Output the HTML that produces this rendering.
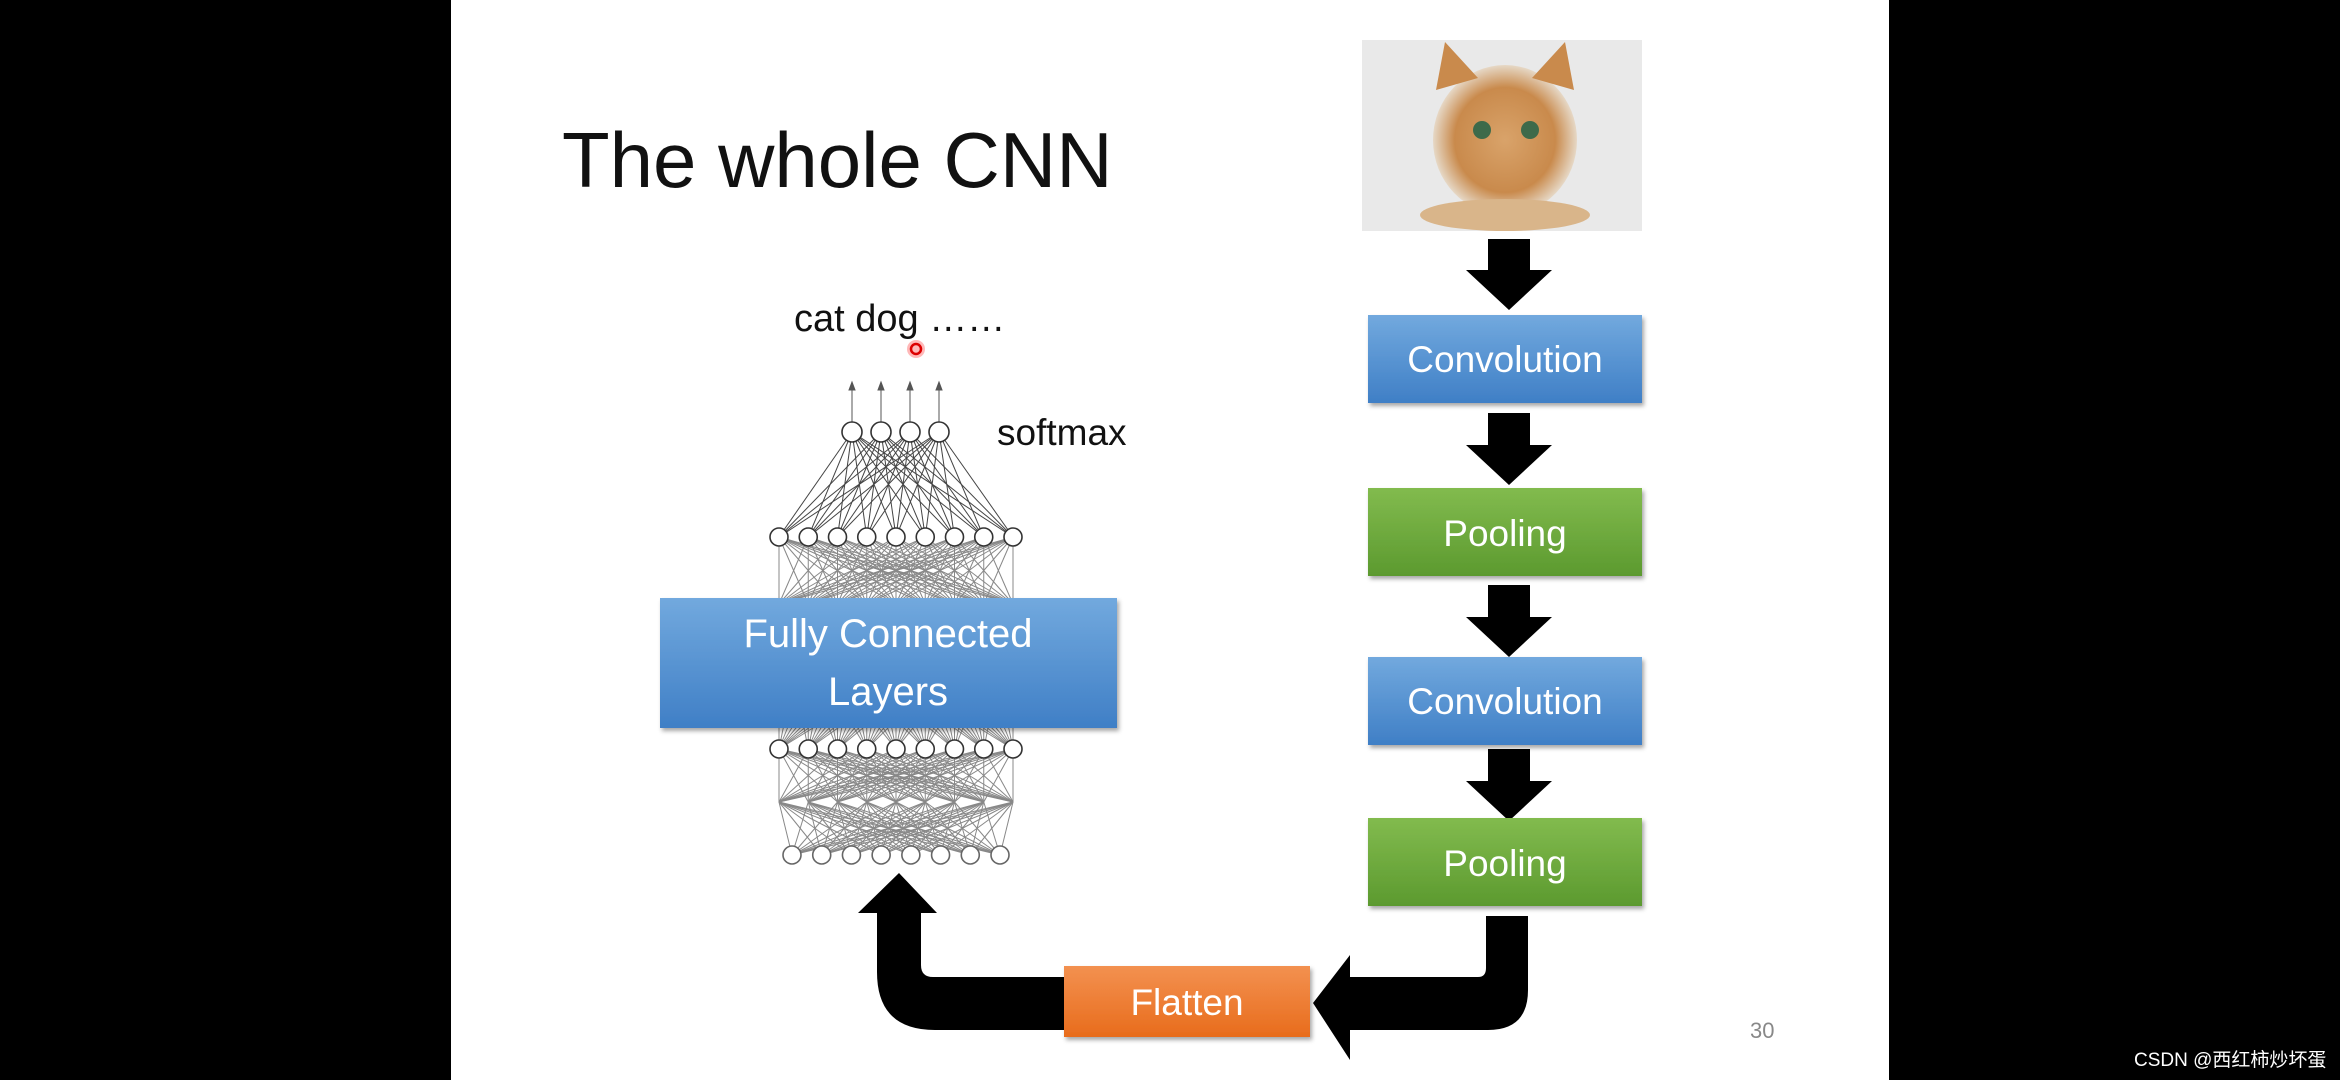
<!DOCTYPE html>
<html><head><meta charset="utf-8"><style>
html,body{margin:0;padding:0;background:#000;}
body{width:2340px;height:1080px;overflow:hidden;position:relative;font-family:"Liberation Sans",sans-serif;}
</style></head><body>
<svg id="s" width="2340" height="1080" xmlns="http://www.w3.org/2000/svg" style="position:absolute;left:0;top:0">
<defs>
<linearGradient id="gb" x1="0" y1="0" x2="0" y2="1"><stop offset="0" stop-color="#72a9de"/><stop offset="1" stop-color="#3f7fc6"/></linearGradient>
<linearGradient id="gg" x1="0" y1="0" x2="0" y2="1"><stop offset="0" stop-color="#82bb4e"/><stop offset="1" stop-color="#5c9a2f"/></linearGradient>
<linearGradient id="go" x1="0" y1="0" x2="0" y2="1"><stop offset="0" stop-color="#f39150"/><stop offset="1" stop-color="#e86c1c"/></linearGradient>
<radialGradient id="cat" cx="0.5" cy="0.5" r="0.5"><stop offset="0" stop-color="#d9a36a"/><stop offset="0.7" stop-color="#c98a4c"/><stop offset="1" stop-color="#e6d8c6"/></radialGradient>
<filter id="sh"><feDropShadow dx="2" dy="3" stdDeviation="2" flood-opacity="0.35"/></filter>
</defs>
<rect x="451" y="0" width="1438" height="1080" fill="#fff"/>
<text x="562" y="187" font-size="78" fill="#111">The whole CNN</text>
<!-- cat -->
<rect x="1362" y="40" width="280" height="191" fill="#e9e9e9"/>
<ellipse cx="1505" cy="140" rx="72" ry="75" fill="url(#cat)"/>
<polygon points="1436,90 1445,42 1478,78" fill="#c98a4c"/>
<polygon points="1574,90 1565,42 1532,78" fill="#c98a4c"/>
<ellipse cx="1505" cy="215" rx="85" ry="16" fill="#d9b58a"/>
<circle cx="1482" cy="130" r="9" fill="#3d6a4a"/><circle cx="1530" cy="130" r="9" fill="#3d6a4a"/>
<g fill="#000">
<polygon points="1488,239 1530,239 1530,270 1552,270 1509,310 1466,270 1488,270"/>
<polygon points="1488,413 1530,413 1530,445 1552,445 1509,485 1466,445 1488,445"/>
<polygon points="1488,585 1530,585 1530,617 1552,617 1509,657 1466,617 1488,617"/>
<polygon points="1488,749 1530,749 1530,781 1552,781 1509,821 1466,781 1488,781"/>
</g>
<g id="net" stroke="#555" stroke-width="1" fill="none"></g>
<g id="nodes" stroke="#333" stroke-width="1.6" fill="#fff"></g>
<g filter="url(#sh)">
<rect x="1368" y="315" width="274" height="88" fill="url(#gb)"/>
<rect x="1368" y="488" width="274" height="88" fill="url(#gg)"/>
<rect x="1368" y="657" width="274" height="88" fill="url(#gb)"/>
<rect x="1368" y="818" width="274" height="88" fill="url(#gg)"/>
<rect x="1064" y="966" width="246" height="71" fill="url(#go)"/>
<rect x="660" y="598" width="457" height="130" fill="url(#gb)"/>
</g>
<g fill="#fff" font-size="37" text-anchor="middle">
<text x="1505" y="372">Convolution</text>
<text x="1505" y="546">Pooling</text>
<text x="1505" y="714">Convolution</text>
<text x="1505" y="876">Pooling</text>
<text x="1187" y="1015">Flatten</text>
<text x="888" y="647" font-size="40">Fully Connected</text>
<text x="888" y="705" font-size="40">Layers</text>
</g>
<path d="M1486,916 L1528,916 L1528,990 Q1528,1030 1488,1030 L1350,1030 L1350,1060 L1313,1003 L1350,955 L1350,977 L1478,977 Q1486,977 1486,968 Z" fill="#000"/>
<path d="M1064,977 L1064,1030 L935,1030 Q877,1030 877,972 L877,913 L858,913 L899,873 L937,913 L921,913 L921,965 Q921,977 933,977 Z" fill="#000"/>
<text x="794" y="331" font-size="38" fill="#111">cat dog ……</text>
<text x="997" y="445" font-size="37" fill="#111">softmax</text>
<circle cx="916" cy="349" r="9" fill="#f33" opacity="0.35"/><circle cx="916" cy="349" r="5" fill="none" stroke="#d00" stroke-width="2.5"/>
<text x="1750" y="1038" font-size="22" fill="#888">30</text>
<text x="2134" y="1066" font-size="19" fill="#fff" font-family="Liberation Sans, Noto Sans CJK SC, sans-serif">CSDN @西红柿炒坏蛋</text>
</svg>
<script>
var NS="http://www.w3.org/2000/svg";
function row(n,x0,x1,y,r){var a=[];for(var i=0;i<n;i++)a.push({x:x0+(x1-x0)*i/(n-1),y:y,r:r});return a;}
var L=[row(4,852,939,432,10),row(9,779,1013,537,9),row(9,779,1013,604,9),row(9,779,1013,749,9),row(9,779,1013,802,9),row(8,792,1000,855,9)];
var net=document.getElementById("net"),nodes=document.getElementById("nodes");
for(var k=0;k<L.length-1;k++)for(var a of L[k])for(var b of L[k+1]){var l=document.createElementNS(NS,"line");l.setAttribute("x1",a.x);l.setAttribute("y1",a.y);l.setAttribute("x2",b.x);l.setAttribute("y2",b.y);l.setAttribute("stroke",k==0?"#444":"#888");net.appendChild(l);}
for(var a of L[0]){var l=document.createElementNS(NS,"line");l.setAttribute("x1",a.x);l.setAttribute("y1",a.y-10);l.setAttribute("x2",a.x);l.setAttribute("y2",386);net.appendChild(l);var p=document.createElementNS(NS,"polygon");p.setAttribute("points",(a.x-3)+",390 "+(a.x+3)+",390 "+a.x+",382");p.setAttribute("fill","#555");net.appendChild(p);}
for(var k=0;k<L.length;k++){if(k==2||k==4)continue;for(var a of L[k]){var c=document.createElementNS(NS,"circle");c.setAttribute("cx",a.x);c.setAttribute("cy",a.y);c.setAttribute("r",a.r);if(k==5)c.setAttribute("stroke","#666");nodes.appendChild(c);}}
</script>
</body></html>
